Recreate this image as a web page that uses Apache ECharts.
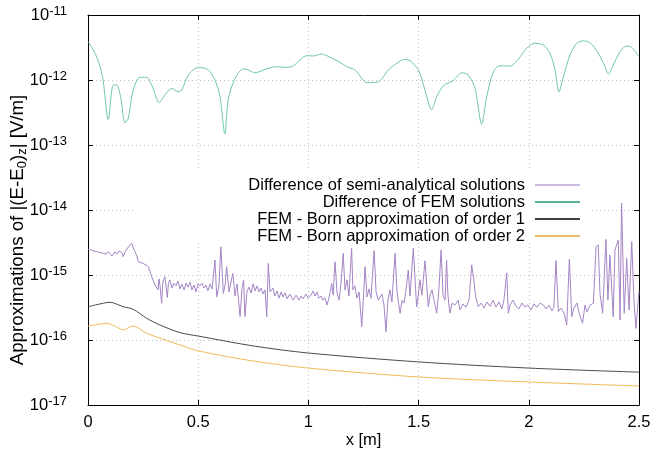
<!DOCTYPE html>
<html><head><meta charset="utf-8">
<script src="https://cdn.jsdelivr.net/npm/echarts@6/dist/echarts.min.js"></script>
<style>html,body{margin:0;padding:0;background:#fff}#c{width:654px;height:458px}</style>
</head><body><div id="c"></div>
<script>
const seriesNames = [
  'Difference of semi-analytical solutions',
  'Difference of FEM solutions',
  'FEM - Born approximation of order 1',
  'FEM - Born approximation of order 2'
];
const xTicks = [0, 0.5, 1, 1.5, 2, 2.5];
const yDecades = [1e-17, 1e-16, 1e-15, 1e-14, 1e-13, 1e-12, 1e-11];

// Difference of semi-analytical solutions (purple, noisy)
const semiDiff = [[0,2.48e-15],[0.014,2.42e-15],[0.027,2.34e-15],[0.036,2.42e-15],[0.045,2.26e-15],[0.054,2.34e-15],[0.064,2.18e-15],[0.073,2.34e-15],[0.082,2.10e-15],[0.092,2.28e-15],[0.100,2.18e-15],[0.109,1.96e-15],[0.115,2.03e-15],[0.122,2.26e-15],[0.132,2.10e-15],[0.141,2.34e-15],[0.145,2.42e-15],[0.154,2.18e-15],[0.160,1.91e-15],[0.168,2.26e-15],[0.177,2.51e-15],[0.186,2.79e-15],[0.193,2.90e-15],[0.198,3.08e-15],[0.204,2.7e-15],[0.213,2.28e-15],[0.222,1.96e-15],[0.228,1.60e-15],[0.236,1.60e-15],[0.245,1.53e-15],[0.254,1.48e-15],[0.263,1.43e-15],[0.274,1.34e-15],[0.281,1.28e-15],[0.289,9.4e-16],[0.295,9.0e-16],[0.304,7.0e-16],[0.312,7.4e-16],[0.318,5.9e-16],[0.322,8.7e-16],[0.327,6.8e-16],[0.334,3.67e-16],[0.340,7.8e-16],[0.349,9.4e-16],[0.360,4.5e-16],[0.365,7.5e-16],[0.372,8.4e-16],[0.381,6.3e-16],[0.390,7.5e-16],[0.399,6.8e-16],[0.408,8.1e-16],[0.417,6.1e-16],[0.426,7.3e-16],[0.436,5.9e-16],[0.445,7.5e-16],[0.454,6.5e-16],[0.463,7.8e-16],[0.472,5.9e-16],[0.481,7.0e-16],[0.490,5.5e-16],[0.499,7.3e-16],[0.508,6.8e-16],[0.517,7.5e-16],[0.526,6.3e-16],[0.535,7.0e-16],[0.544,5.7e-16],[0.554,7.3e-16],[0.563,6.1e-16],[0.576,1.70e-15],[0.584,4.6e-16],[0.594,6.8e-16],[0.603,2.72e-15],[0.614,5.2e-16],[0.622,7.0e-16],[0.629,1.34e-15],[0.640,5.5e-16],[0.649,7.8e-16],[0.657,1.06e-15],[0.667,4.75e-16],[0.676,7.3e-16],[0.690,2.29e-16],[0.699,6.3e-16],[0.706,8.4e-16],[0.712,2.29e-16],[0.721,5.5e-16],[0.730,6.5e-16],[0.740,5.3e-16],[0.749,7.3e-16],[0.758,5.7e-16],[0.767,6.8e-16],[0.776,5.5e-16],[0.785,6.3e-16],[0.794,5.1e-16],[0.803,5.9e-16],[0.811,2.29e-16],[0.818,1.51e-15],[0.826,5.5e-16],[0.839,6.3e-16],[0.848,4.75e-16],[0.858,5.7e-16],[0.867,4.4e-16],[0.876,5.5e-16],[0.885,4.6e-16],[0.894,5.3e-16],[0.903,4.3e-16],[0.916,5.1e-16],[0.931,4.1e-16],[0.944,4.9e-16],[0.957,4.1e-16],[0.966,4.75e-16],[0.975,4.3e-16],[0.989,5.1e-16],[0.998,4.4e-16],[1.012,4.9e-16],[1.021,5.7e-16],[1.030,4.75e-16],[1.039,5.5e-16],[1.048,4.4e-16],[1.057,4.75e-16],[1.066,4.1e-16],[1.075,4.5e-16],[1.084,3.45e-16],[1.093,4.4e-16],[1.106,7.4e-16],[1.112,4.9e-16],[1.121,1.60e-15],[1.130,5.3e-16],[1.139,4.1e-16],[1.148,7.5e-16],[1.158,2.16e-15],[1.166,5.9e-16],[1.175,8.4e-16],[1.184,4.75e-16],[1.196,2.58e-15],[1.202,5.9e-16],[1.211,6.8e-16],[1.220,4.4e-16],[1.230,5.5e-16],[1.242,1.60e-16],[1.249,4.1e-16],[1.257,1.34e-15],[1.266,4.6e-16],[1.275,6.1e-16],[1.284,4.4e-16],[1.298,2.37e-15],[1.307,5.5e-16],[1.317,4.1e-16],[1.325,4.4e-16],[1.334,5.1e-16],[1.343,3.45e-16],[1.352,1.34e-16],[1.361,4.1e-16],[1.370,5.9e-16],[1.379,3.85e-16],[1.393,2.16e-15],[1.402,5.5e-16],[1.416,2.58e-16],[1.425,4.1e-16],[1.434,3.7e-16],[1.443,5.9e-16],[1.453,1.19e-15],[1.461,4.75e-16],[1.476,2.58e-15],[1.491,3.25e-16],[1.497,4.4e-16],[1.506,8.4e-16],[1.515,4.9e-16],[1.529,1.66e-15],[1.544,3.25e-16],[1.552,4.9e-16],[1.561,5.9e-16],[1.570,4.1e-16],[1.582,2.58e-16],[1.592,5.9e-16],[1.602,2.42e-15],[1.611,4.9e-16],[1.620,4.1e-16],[1.627,1.70e-15],[1.633,4.9e-16],[1.642,2.58e-16],[1.652,3.7e-16],[1.665,3.45e-16],[1.679,4.1e-16],[1.688,2.9e-16],[1.701,3.6e-16],[1.715,3.2e-16],[1.729,4.1e-16],[1.741,1.43e-15],[1.751,8.4e-16],[1.758,4.75e-16],[1.771,3.25e-16],[1.783,3.7e-16],[1.797,3.1e-16],[1.810,3.85e-16],[1.824,3.3e-16],[1.838,4.1e-16],[1.851,3.2e-16],[1.865,3.85e-16],[1.878,3.0e-16],[1.887,4.1e-16],[1.900,1.08e-15],[1.907,2.58e-16],[1.915,3.45e-16],[1.928,4.1e-16],[1.942,3.3e-16],[1.955,3.0e-16],[1.969,3.7e-16],[1.983,3.2e-16],[1.996,3.45e-16],[2.010,2.9e-16],[2.024,3.6e-16],[2.037,3.2e-16],[2.051,3.7e-16],[2.066,3.45e-16],[2.078,3.0e-16],[2.092,3.45e-16],[2.105,2.8e-16],[2.114,3.2e-16],[2.123,1.66e-15],[2.134,2.75e-16],[2.146,3.1e-16],[2.160,2.6e-16],[2.172,1.70e-16],[2.184,1.75e-15],[2.195,2.29e-16],[2.205,3.1e-16],[2.219,3.7e-16],[2.228,2.6e-16],[2.244,1.81e-16],[2.255,3.45e-16],[2.264,2.7e-16],[2.278,3.45e-16],[2.293,3.67e-16],[2.305,2.72e-15],[2.315,2.90e-15],[2.323,5.2e-16],[2.335,2.58e-16],[2.350,3.54e-15],[2.359,4.1e-16],[2.368,2.03e-15],[2.383,2.29e-16],[2.391,2.42e-15],[2.406,3.45e-15],[2.414,2.03e-16],[2.421,1.28e-14],[2.433,2.58e-16],[2.444,1.81e-15],[2.455,2.9e-16],[2.467,3.25e-15],[2.477,4.1e-16],[2.486,1.51e-16],[2.5,5.6e-16]];

// Difference of FEM solutions (teal, top)
const femDiff = [[0,3.8e-12],[0.006,3.67e-12],[0.039,2.28e-12],[0.066,1.12e-12],[0.092,2.48e-13],[0.115,8.4e-13],[0.130,8.4e-13],[0.148,5.5e-13],[0.168,2.2e-13],[0.183,2.6e-13],[0.205,7.0e-13],[0.236,1.10e-12],[0.266,1.10e-12],[0.289,8.4e-13],[0.324,4.5e-13],[0.349,5.9e-13],[0.380,7.4e-13],[0.410,6.6e-13],[0.425,7.0e-13],[0.455,1.19e-12],[0.486,1.51e-12],[0.508,1.55e-12],[0.546,1.43e-12],[0.576,1.0e-12],[0.599,5.5e-13],[0.621,1.48e-13],[0.636,4.9e-13],[0.667,1.06e-12],[0.705,1.48e-12],[0.727,1.43e-12],[0.758,1.29e-12],[0.788,1.39e-12],[0.818,1.51e-12],[0.856,1.60e-12],[0.894,1.57e-12],[0.924,1.60e-12],[0.962,2.03e-12],[0.992,2.37e-12],[1.022,2.34e-12],[1.060,2.51e-12],[1.098,2.24e-12],[1.143,1.87e-12],[1.174,1.60e-12],[1.211,1.43e-12],[1.234,1.15e-12],[1.265,9.1e-13],[1.317,9.4e-13],[1.363,1.43e-12],[1.401,1.81e-12],[1.438,2.08e-12],[1.461,1.98e-12],[1.499,1.43e-12],[1.529,7.0e-13],[1.559,3.5e-13],[1.582,5.5e-13],[1.612,8.1e-13],[1.657,9.8e-13],[1.696,1.29e-12],[1.725,1.19e-12],[1.756,7.4e-13],[1.786,2.1e-13],[1.809,5.5e-13],[1.839,1.34e-12],[1.869,1.66e-12],[1.915,1.64e-12],[1.952,2.08e-12],[1.990,3.07e-12],[2.028,3.67e-12],[2.066,3.45e-12],[2.096,2.58e-12],[2.119,1.43e-12],[2.137,6.6e-13],[2.157,1.12e-12],[2.187,2.43e-12],[2.217,3.67e-12],[2.245,4.0e-12],[2.278,3.75e-12],[2.315,2.58e-12],[2.346,1.60e-12],[2.361,1.24e-12],[2.383,1.70e-12],[2.414,2.72e-12],[2.444,3.33e-12],[2.467,3.18e-12],[2.5,2.28e-12]];

// FEM - Born approximation of order 1 (black)
const born1 = [[0,3.25e-16],[0.04,3.5e-16],[0.10,3.8e-16],[0.16,3.25e-16],[0.205,2.97e-16],[0.266,2.16e-16],[0.327,1.70e-16],[0.417,1.30e-16],[0.5,1.15e-16],[0.75,8.1e-17],[1.0,6.3e-17],[1.5,4.6e-17],[2.0,3.7e-17],[2.5,3.2e-17]];

// FEM - Born approximation of order 2 (orange)
const born2 = [[0,1.64e-16],[0.04,1.72e-16],[0.085,1.81e-16],[0.12,1.65e-16],[0.16,1.43e-16],[0.205,1.64e-16],[0.266,1.27e-16],[0.34,1.03e-16],[0.417,8.4e-17],[0.5,6.8e-17],[0.75,4.75e-17],[1.0,3.7e-17],[1.5,2.7e-17],[2.0,2.26e-17],[2.5,1.96e-17]];

const FONT = "'Liberation Sans', Arial, Helvetica, sans-serif";
const FS = 16.5;
const lineColors = ['#a585c6', '#6fc7a8', '#4a4a4a', '#f2b957'];
const legendColors = ['#bca2d6', '#1a9a70', '#000000', '#e2a33a'];
const legendTops = [176.5, 193.5, 210.5, 227.5];

const chart = echarts.init(document.getElementById('c'), null, {renderer: 'canvas'});

const gridLine = {show: true, lineStyle: {color: '#c0c0c0', type: [1, 3], width: 1}};
const frameLine = {show: true, onZero: false, lineStyle: {color: '#000', width: 1}};
const tick = {show: true, inside: true, length: 5, lineStyle: {color: '#000', width: 1}};

const option = {
  animation: false,
  backgroundColor: '#fff',
  textStyle: {fontFamily: FONT},
  grid: {left: 88, right: 15, top: 15, bottom: 53, containLabel: false, outerBoundsMode: 'none'},
  graphic: [{type: 'rect', z: 1, silent: true, shape: {x: 135, y: 170, width: 455, height: 73}, style: {fill: '#fff'}}],
  xAxis: [
    {type: 'value', min: xTicks[0], max: xTicks[xTicks.length - 1], interval: 0.5, position: 'bottom',
     axisLine: frameLine, axisTick: tick, splitLine: gridLine,
     axisLabel: {color: '#000', fontSize: FS, margin: 9, fontFamily: FONT},
     name: 'x [m]', nameLocation: 'middle', nameGap: 27, nameMoveOverlap: false,
     nameTextStyle: {color: '#000', fontSize: FS, fontFamily: FONT}},
    {type: 'value', min: xTicks[0], max: xTicks[xTicks.length - 1], interval: 0.5, position: 'top',
     axisLine: frameLine, axisTick: tick, splitLine: {show: false}, axisLabel: {show: false}}
  ],
  yAxis: [
    {type: 'log', logBase: 10, min: yDecades[0], max: yDecades[yDecades.length - 1], splitNumber: 6, position: 'left',
     axisLine: frameLine, axisTick: tick, splitLine: gridLine, minorTick: {show: false},
     axisLabel: {
       margin: 21,
       formatter: v => '{b|10}{s|' + Math.round(Math.log10(v)) + '}',
       rich: {
         b: {fontSize: FS, lineHeight: 20, color: '#000', fontFamily: FONT},
         s: {fontSize: 13, lineHeight: 13, verticalAlign: 'top', color: '#000', fontFamily: FONT}
       }
     },
     name: '{t|Approximations of |(E-E}{u|0}{t|)}{u|z}{t|| [V/m]}', nameLocation: 'middle', nameGap: 59, nameRotate: 90,
     nameMoveOverlap: false,
     nameTextStyle: {padding: [0, 40, 0, 0], rich: {
       t: {fontSize: 18.7, lineHeight: 22, color: '#000', fontFamily: FONT},
       u: {fontSize: 13, lineHeight: 22, verticalAlign: 'bottom', color: '#000', fontFamily: FONT}
     }}},
    {type: 'log', logBase: 10, min: yDecades[0], max: yDecades[yDecades.length - 1], splitNumber: 6, position: 'right',
     axisLine: frameLine, axisTick: tick, splitLine: {show: false}, axisLabel: {show: false}}
  ],
  legend: seriesNames.map((n, i) => ({
    data: [{name: n, itemStyle: {color: legendColors[i]}}],
    right: 74, top: legendTops[i], orient: 'horizontal', align: 'right',
    icon: 'rect', itemWidth: 45, itemHeight: 1.5, padding: 0, selectedMode: false,
    textStyle: {fontSize: FS, color: '#000', fontFamily: FONT, lineHeight: 17, padding: [0, 5, 0, 0]}
  })),
  series: [
    {name: seriesNames[0], type: 'line', data: semiDiff, showSymbol: false, symbol: 'none',
     lineStyle: {color: lineColors[0], width: 1}, itemStyle: {color: lineColors[0]}, z: 3},
    {name: seriesNames[1], type: 'line', data: femDiff, showSymbol: false, symbol: 'none', smooth: 0.3,
     lineStyle: {color: lineColors[1], width: 1}, itemStyle: {color: lineColors[1]}, z: 3},
    {name: seriesNames[2], type: 'line', data: born1, showSymbol: false, symbol: 'none', smooth: 0.3,
     lineStyle: {color: lineColors[2], width: 1}, itemStyle: {color: lineColors[2]}, z: 3},
    {name: seriesNames[3], type: 'line', data: born2, showSymbol: false, symbol: 'none', smooth: 0.3,
     lineStyle: {color: lineColors[3], width: 1}, itemStyle: {color: lineColors[3]}, z: 3}
  ]
};
chart.setOption(option);
</script>
</body></html>
